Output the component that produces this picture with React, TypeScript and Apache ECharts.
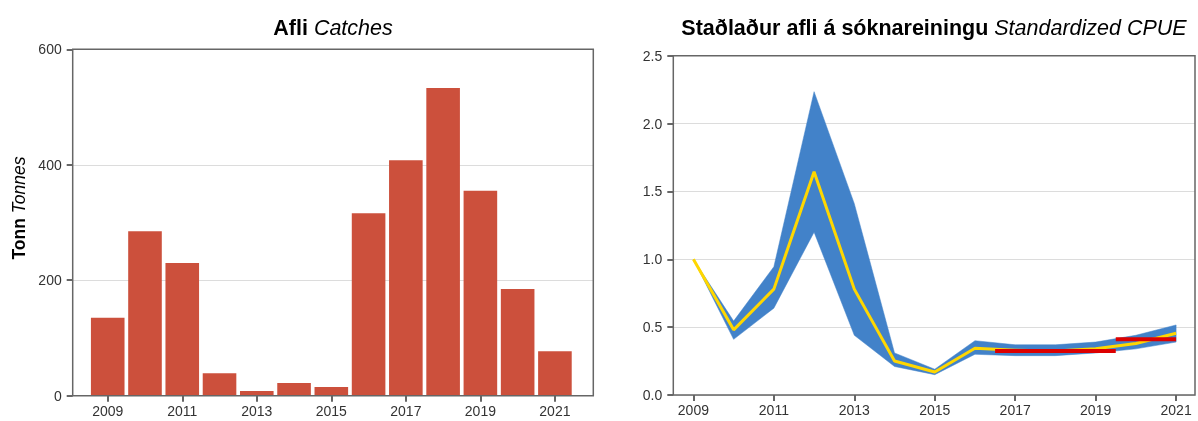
import React, { useEffect, useRef } from "react";
import * as echarts from "echarts";

const years = [2009, 2010, 2011, 2012, 2013, 2014, 2015, 2016, 2017, 2018, 2019, 2020, 2021];
const catches = [135, 285, 230, 39, 8, 22, 15, 316, 408, 533, 355, 185, 77];
const cpue = [1.0, 0.48, 0.78, 1.645, 0.78, 0.25, 0.17, 0.345, 0.33, 0.325, 0.34, 0.38, 0.455];
const cpueLower = [1.0, 0.41, 0.64, 1.2, 0.44, 0.21, 0.15, 0.3, 0.29, 0.29, 0.31, 0.34, 0.39];
const cpueUpper = [1.0, 0.545, 0.945, 2.235, 1.41, 0.31, 0.19, 0.4, 0.37, 0.37, 0.39, 0.44, 0.516];
const refStart = [2016.5, 2019.5];
const refEnd = [2019.5, 2021];
const refLevel = [0.324, 0.41];
const yearTicks = [2009, 2011, 2013, 2015, 2017, 2019, 2021];

const FONT = "Liberation Sans";
const AXIS_COLOR = "#666";
const TEXT_COLOR = "#333";
const GRID_COLOR = "#dcdcdc";

export default function App() {
  const ref = useRef<HTMLDivElement>(null);
  useEffect(() => {
    if (!ref.current) return;
    const chart = echarts.init(ref.current, undefined, { renderer: "svg" });
    const xAxisCommon = {
      type: "value" as const,
      axisLine: { show: false },
      axisTick: { show: true, length: 6, customValues: yearTicks, lineStyle: { color: TEXT_COLOR, width: 1.5 } },
      axisLabel: {
        customValues: yearTicks,
        color: TEXT_COLOR,
        fontSize: 14,
        fontFamily: FONT,
        margin: 8,
        formatter: (v: number) => String(v),
      },
      splitLine: { show: false },
    };
    const yAxisCommon = {
      type: "value" as const,
      axisLine: { show: false },
      axisTick: { show: true, length: 6, lineStyle: { color: TEXT_COLOR, width: 1.5 } },
      splitLine: { show: true, lineStyle: { color: GRID_COLOR, width: 1 } },
    };
    const refLines = refStart.map((s, i) => ({
      type: "line",
      xAxisIndex: 1,
      yAxisIndex: 1,
      data: [
        [s, refLevel[i]],
        [refEnd[i], refLevel[i]],
      ],
      symbol: "none",
      lineStyle: { color: "#dd0000", width: 4 },
      z: 5,
    }));
    chart.setOption({
      animation: false,
      textStyle: { fontFamily: FONT },
      grid: [
        { left: 72.7, right: 1198 - 593.3, top: 49.3, bottom: 421 - 395.7, show: true, borderColor: AXIS_COLOR, borderWidth: 1.5, z: 3 },
        { left: 673.3, right: 1198 - 1195, top: 55.7, bottom: 421 - 395, show: true, borderColor: AXIS_COLOR, borderWidth: 1.5, z: 3 },
      ],
      xAxis: [
        { ...xAxisCommon, gridIndex: 0, min: 2008.06, max: 2022.03 },
        { ...xAxisCommon, gridIndex: 1, min: 2008.5, max: 2021.47 },
      ],
      yAxis: [
        {
          ...yAxisCommon,
          gridIndex: 0,
          min: 0,
          max: 600,
          interval: 200,
          axisLabel: { color: TEXT_COLOR, fontSize: 14, fontFamily: FONT, margin: 11 },
        },
        {
          ...yAxisCommon,
          gridIndex: 1,
          min: 0,
          max: 2.5,
          interval: 0.5,
          axisLabel: { color: TEXT_COLOR, fontSize: 14, fontFamily: FONT, margin: 11, formatter: (v: number) => v.toFixed(1) },
        },
      ],
      graphic: [
        {
          type: "text",
          x: 333,
          y: 28,
          style: {
            text: "{b|Afli} {i|Catches}",
            align: "center",
            verticalAlign: "middle",
            fill: "#000",
            rich: {
              b: { fontWeight: "bold", fontSize: 21.5, fontFamily: FONT, fill: "#000" },
              i: { fontStyle: "italic", fontSize: 21.5, fontFamily: FONT, fill: "#000" },
            },
            fontSize: 21.5,
            fontFamily: FONT,
          },
        },
        {
          type: "text",
          x: 934,
          y: 28,
          style: {
            text: "{b|Staðlaður afli á sóknareiningu} {i|Standardized CPUE}",
            align: "center",
            verticalAlign: "middle",
            fill: "#000",
            rich: {
              b: { fontWeight: "bold", fontSize: 21.5, fontFamily: FONT, fill: "#000" },
              i: { fontStyle: "italic", fontSize: 21.5, fontFamily: FONT, fill: "#000" },
            },
            fontSize: 21.5,
            fontFamily: FONT,
          },
        },
        {
          type: "text",
          x: 19,
          y: 208,
          rotation: Math.PI / 2,
          style: {
            text: "{b|Tonn} {i|Tonnes}",
            align: "center",
            verticalAlign: "middle",
            fill: "#000",
            rich: {
              b: { fontWeight: "bold", fontSize: 17.5, fontFamily: FONT, fill: "#000" },
              i: { fontStyle: "italic", fontSize: 17.5, fontFamily: FONT, fill: "#000" },
            },
            fontSize: 17.5,
            fontFamily: FONT,
          },
        },
      ],
      series: [
        {
          type: "bar",
          xAxisIndex: 0,
          yAxisIndex: 0,
          data: years.map((y, i) => [y, catches[i]]),
          barWidth: 33.6,
          itemStyle: { color: "#cc503c" },
          z: 2,
        },
        {
          type: "custom",
          xAxisIndex: 1,
          yAxisIndex: 1,
          data: [[years[0], cpueLower[0]]],
          renderItem: (_params: any, api: any) => {
            const upper = years.map((y, i) => api.coord([y, cpueUpper[i]]));
            const lower = years.map((y, i) => api.coord([y, cpueLower[i]])).reverse();
            return {
              type: "polygon",
              shape: { points: upper.concat(lower) },
              style: { fill: "#4282c9", stroke: "#4282c9", lineWidth: 0.5 },
            };
          },
          z: 2,
        },
        {
          type: "line",
          xAxisIndex: 1,
          yAxisIndex: 1,
          data: years.map((y, i) => [y, cpue[i]]),
          symbol: "none",
          lineStyle: { color: "#ffd700", width: 3 },
          z: 4,
        },
        ...refLines,
      ],
    });
    return () => chart.dispose();
  }, []);
  return <div ref={ref} style={{ position: "fixed", left: 0, top: 0, width: 1198, height: 421 }} />;
}
